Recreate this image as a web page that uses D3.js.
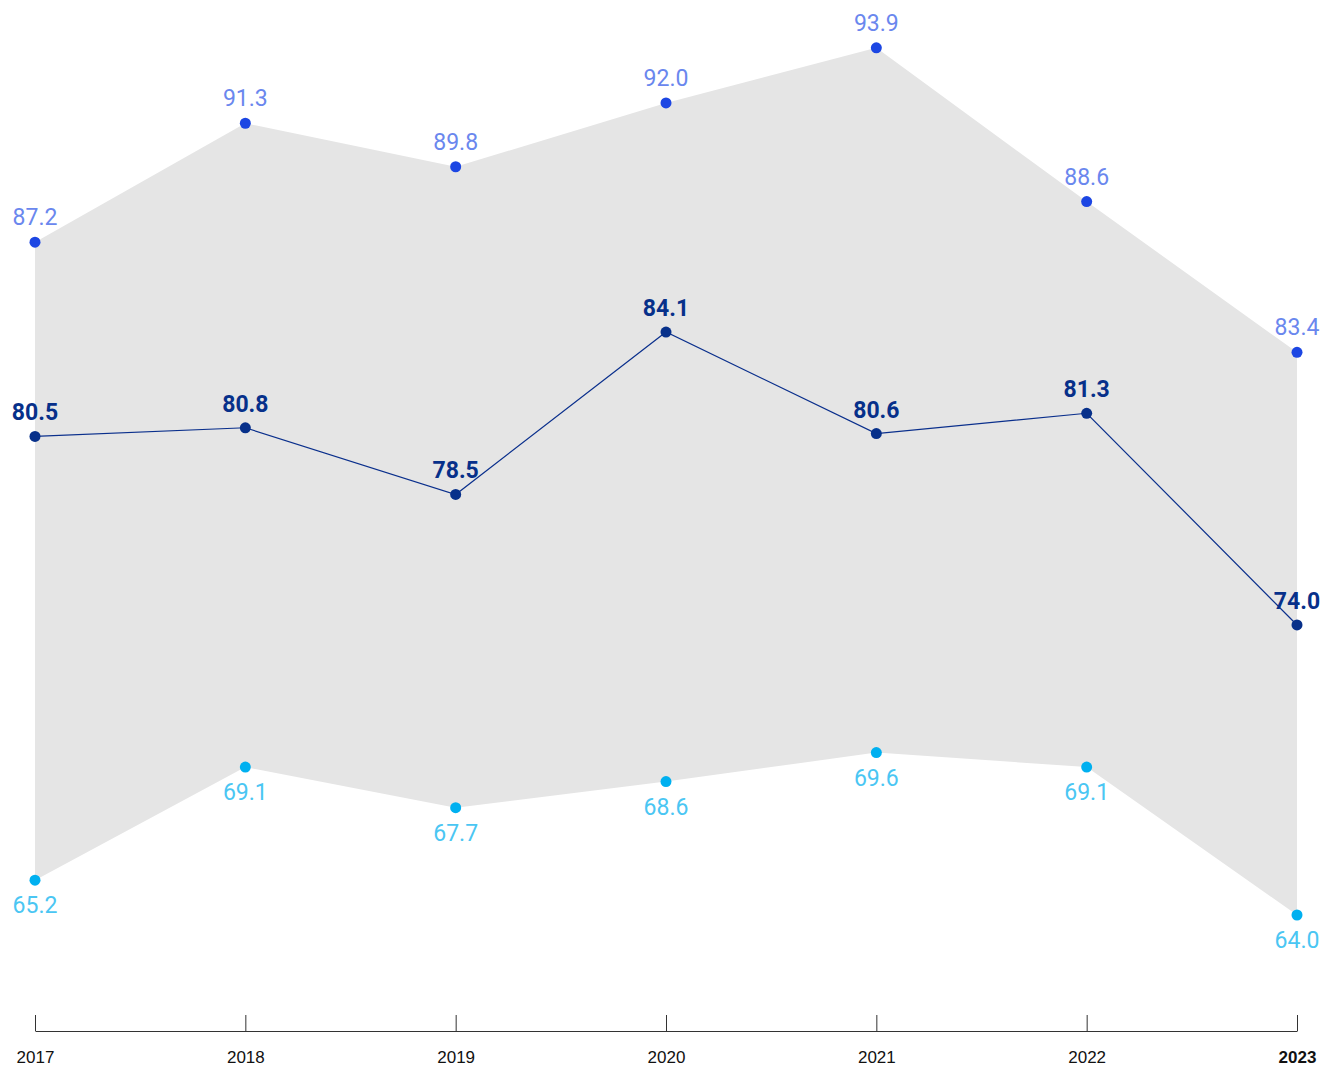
<!DOCTYPE html>
<html>
<head>
<meta charset="utf-8">
<script src="https://cdn.jsdelivr.net/npm/d3@7"></script>
<style>
  html, body { margin: 0; padding: 0; background: #fff; }
  svg { display: block; }
</style>
</head>
<body>
<svg id="chart" width="1334" height="1068"></svg>
<script>
// Yearly range (max / average / min)
const years = ["2017", "2018", "2019", "2020", "2021", "2022", "2023"];
const maxValues = [87.2, 91.3, 89.8, 92.0, 93.9, 88.6, 83.4];
const avgValues = [80.5, 80.8, 78.5, 84.1, 80.6, 81.3, 74.0];
const minValues = [65.2, 69.1, 67.7, 68.6, 69.6, 69.1, 64.0];

const svg = d3.select("#chart");

const x = d3.scalePoint().domain(years).range([35, 1297]);
const y = d3.scaleLinear().domain([60, 95.55]).range([1031, 0]);

const rows = years.map((yr, i) => ({ yr, max: maxValues[i], avg: avgValues[i], min: minValues[i] }));

// Shaded band between min and max
svg.append("path")
  .datum(rows)
  .attr("fill", "#e5e5e5")
  .attr("d", d3.area().x(d => x(d.yr)).y0(d => y(d.min)).y1(d => y(d.max)));

// Average line
svg.append("path")
  .datum(rows)
  .attr("fill", "none")
  .attr("stroke", "#0a2f8c")
  .attr("stroke-width", 1.2)
  .attr("d", d3.line().x(d => x(d.yr)).y(d => y(d.avg)));

const series = [
  { key: "max", dot: "#1c46e3", text: "#6a87ee", weight: 400, dy: -17 },
  { key: "avg", dot: "#07308a", text: "#07308a", weight: 700, dy: -16 },
  { key: "min", dot: "#00b0f0", text: "#4ac6f3", weight: 400, dy: 33 }
];

series.forEach(s => {
  const g = svg.append("g");
  g.selectAll("circle").data(rows).join("circle")
    .attr("cx", d => x(d.yr))
    .attr("cy", d => y(d[s.key]))
    .attr("r", 5.5)
    .attr("fill", s.dot);
  g.selectAll("text").data(rows).join("text")
    .attr("x", d => x(d.yr))
    .attr("y", d => y(d[s.key]) + s.dy)
    .attr("text-anchor", "middle")
    .attr("font-family", "Roboto, sans-serif")
    .attr("font-size", 23)
    .attr("font-weight", s.weight)
    .attr("fill", s.text)
    .text(d => d[s.key].toFixed(1));
});

// Bottom axis with upward ticks
const axis = d3.axisBottom(x).tickSizeInner(-16).tickSizeOuter(0).tickPadding(0);
const ax = svg.append("g").attr("transform", "translate(0,1031)").call(axis);
ax.select(".domain").attr("stroke", "#333").attr("stroke-width", 1);
ax.selectAll(".tick line").attr("stroke", "#333").attr("stroke-width", 1);
ax.selectAll(".tick text")
  .attr("y", 32)
  .attr("dy", 0)
  .attr("fill", "#111")
  .attr("font-family", "'Liberation Sans', Arial, sans-serif")
  .attr("font-size", 17)
  .attr("font-weight", d => d === "2023" ? 700 : 400);
</script>
</body>
</html>
